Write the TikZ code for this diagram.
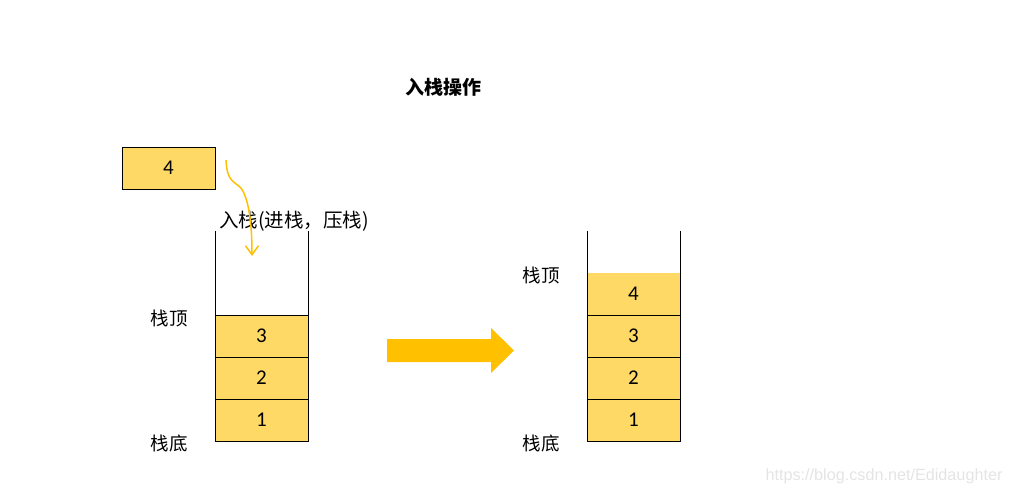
\documentclass[tikz,border=0pt]{standalone}
\usepackage{fontspec}
\setmainfont{Noto Sans CJK SC}
\newfontfamily\digitfont{Carlito}
\newfontfamily\wmfont{Liberation Sans}
\usetikzlibrary{arrows.meta}
\definecolor{cellyellow}{RGB}{255,217,102}
\definecolor{arroworange}{RGB}{255,192,0}
\definecolor{wmgray}{RGB}{228,228,228}
\begin{document}
\begin{tikzpicture}[x=1pt,y=-1pt,
  cell/.style={draw=black,line width=1pt,fill=cellyellow,minimum width=93pt,minimum height=42pt,inner sep=0pt,outer sep=0pt,font=\digitfont\fontsize{21}{21}\selectfont},
  lbl/.style={inner sep=0pt,font=\fontsize{18.5}{18.5}\selectfont},
  wall/.style={draw=black,line width=1pt}]
\useasboundingbox (0,0) rectangle (1011,495);
% title
\node[inner sep=0pt,font=\bfseries\fontsize{19}{19}\selectfont] (title) at (443,87) {入栈操作};
% element to push
\node[cell] (new) at (168.5,168) {4};
% label
\node[inner sep=0pt,anchor=west,font=\fontsize{19.5}{19.5}\selectfont] (pushlbl) at (219,221) {入栈(进栈，压栈)};
% left stack
\node[cell] (l3) at (261.5,336) {3};
\node[cell] (l2) at (261.5,378) {2};
\node[cell] (l1) at (261.5,420) {1};
\coordinate (lwtop) at (215,231);
\coordinate (rwtop) at (308,231);
\draw[wall] (lwtop) -- (l3.north west);
\draw[wall] (rwtop) -- (l3.north east);
\node[lbl] (ltop) at (169,318) {栈顶};
\node[lbl] (lbot) at (169,443) {栈底};
% push arrow
\coordinate (cs) at (226,160);
\coordinate (cm) at (241,188);
\coordinate (ce) at (252,256);
\draw[arroworange,line width=1.5pt,-{Straight Barb[length=9pt,width=13pt]}]
  (cs) .. controls (227,182) and (234,181) .. (cm) .. controls (249,199) and (252,225) .. (ce);
% big arrow
\fill[arroworange] (387,339) -- (491,339) -- (491,328) -- (514,350.5) -- (491,373) -- (491,362) -- (387,362) -- cycle;
% right stack
\node[cell,draw=none] (r4) at (633.5,294) {4};
\node[cell] (r3) at (633.5,336) {3};
\node[cell] (r2) at (633.5,378) {2};
\node[cell] (r1) at (633.5,420) {1};
\coordinate (rlwtop) at (587,231);
\coordinate (rrwtop) at (680,231);
\draw[wall] (rlwtop) -- (r3.north west);
\draw[wall] (rrwtop) -- (r3.north east);
\node[lbl] (rtop) at (541,275) {栈顶};
\node[lbl] (rbot) at (541,443) {栈底};
% watermark
\node[inner sep=0pt,text=wmgray,font=\wmfont\fontsize{16.2}{16.2}\selectfont] (wm) at (884,476) {https://blog.csdn.net/Edidaughter};
\end{tikzpicture}
\end{document}
